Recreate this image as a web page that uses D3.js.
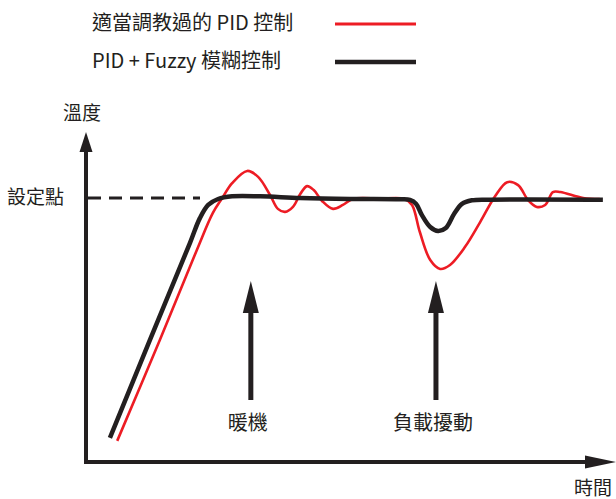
<!DOCTYPE html>
<html>
<head>
<meta charset="utf-8">
<script src="https://cdn.jsdelivr.net/npm/d3@7"></script>
<style>
  body { margin: 0; background: #fff; }
  text { font-family: "Noto Sans CJK TC", "Noto Sans", sans-serif; fill: #231f20; }
</style>
</head>
<body>
<svg id="chart" width="616" height="499"></svg>
<script>
// time (0-100) and temperature (0-100), set point at 80
var setPoint = 80;

var fuzzyTime = [4.6, 12.3, 20.0, 21.9, 23.5, 25.4, 28.1, 33.5, 41.2, 50.8, 60.4, 62.3, 63.5, 64.6, 66.2, 67.7, 69.2, 70.8, 72.3, 74.2, 77.7, 99.4];
var fuzzyTemp = [7.3, 37.0, 66.4, 73.9, 77.9, 79.7, 80.5, 80.5, 80.0, 79.7, 79.6, 79.4, 78.2, 74.8, 71.2, 70.0, 70.9, 75.2, 78.2, 79.3, 79.5, 79.5];

var pidTime = [6.0, 14.2, 21.3, 24.4, 26.2, 28.1, 31.0, 33.1, 35.4, 36.9, 38.3, 39.8, 41.2, 42.5, 43.8, 45.4, 47.5, 49.4, 51.3, 56.5, 61.3, 62.7, 64.2, 66.2, 68.1, 70.0, 72.9, 75.8, 78.7, 81.0, 83.1, 85.0, 86.7, 88.3, 89.8, 91.2, 95.6, 98.8];
var pidTemp = [6.4, 37.0, 64.2, 75.5, 80.0, 84.5, 88.2, 86.4, 80.9, 76.7, 75.8, 77.3, 81.2, 83.6, 82.4, 79.1, 76.7, 77.9, 79.7, 79.8, 79.7, 77.9, 69.7, 61.2, 58.5, 59.7, 65.2, 72.7, 80.6, 84.8, 83.9, 79.4, 77.3, 77.9, 81.8, 81.8, 80.0, 79.7];

var seriesNames = ["適當調教過的 PID 控制", "PID + Fuzzy 模糊控制"];
var seriesColors = ["#ed1c24", "#231f20"];

var eventNames = ["暖機", "負載擾動"];
var eventTime = [31.7, 67.3];

var axisNames = ["溫度", "設定點", "時間"];

var svg = d3.select("#chart");

var x = d3.scaleLinear().domain([0, 100]).range([86, 606]);
var y = d3.scaleLinear().domain([0, 100]).range([462, 132]);

var ink = "#231f20";

// axes
svg.append("line")
    .attr("x1", x(0)).attr("x2", x(0))
    .attr("y1", y(0) + 2).attr("y2", y(100) + 16)
    .attr("stroke", ink).attr("stroke-width", 4);
svg.append("path")
    .attr("d", "M" + x(0) + "," + y(100) + "l-6.5,20h13z")
    .attr("fill", ink);

svg.append("line")
    .attr("x1", x(0) - 2).attr("x2", 590)
    .attr("y1", y(0)).attr("y2", y(0))
    .attr("stroke", ink).attr("stroke-width", 4);
svg.append("path")
    .attr("d", "M616," + y(0) + "l-31,-6.5v13z")
    .attr("fill", ink);

// set point dashed line
svg.append("line")
    .attr("x1", x(0)).attr("x2", 200)
    .attr("y1", y(setPoint)).attr("y2", y(setPoint))
    .attr("stroke", ink).attr("stroke-width", 3)
    .attr("stroke-dasharray", "13,8")
    .attr("stroke-dashoffset", -2);

// axis labels
svg.append("text").attr("x", 82).attr("y", 120)
    .attr("text-anchor", "middle").style("font-size", "19px").text(axisNames[0]);
svg.append("text").attr("x", 7).attr("y", 204)
    .style("font-size", "19px").text(axisNames[1]);
svg.append("text").attr("x", 612).attr("y", 495)
    .attr("text-anchor", "end").style("font-size", "19px").text(axisNames[2]);

// curves
var line = d3.line()
    .x(d => x(d[0]))
    .y(d => y(d[1]))
    .curve(d3.curveCatmullRom.alpha(0.5));

var pidData = pidTime.map((t, i) => [t, pidTemp[i]]);
var fuzzyData = fuzzyTime.map((t, i) => [t, fuzzyTemp[i]]);

svg.append("path")
    .datum(pidData)
    .attr("d", line)
    .attr("fill", "none")
    .attr("stroke", seriesColors[0])
    .attr("stroke-width", 2.6);

svg.append("path")
    .datum(fuzzyData)
    .attr("d", line)
    .attr("fill", "none")
    .attr("stroke", seriesColors[1])
    .attr("stroke-width", 4.5);

// event arrows
eventTime.forEach(function(t, i) {
    var ax = x(t);
    svg.append("line")
        .attr("x1", ax).attr("x2", ax)
        .attr("y1", 400).attr("y2", 305)
        .attr("stroke", ink).attr("stroke-width", 5);
    svg.append("path")
        .attr("d", "M" + ax + ",281l-8,32h16z")
        .attr("fill", ink);
    svg.append("text")
        .attr("x", ax - 3).attr("y", 430)
        .attr("text-anchor", "middle")
        .style("font-size", "20px")
        .text(eventNames[i]);
});

// legend
seriesNames.forEach(function(name, i) {
    var ly = 23 + i * 38;
    svg.append("text")
        .attr("x", 92).attr("y", ly + 7)
        .style("font-size", "20px")
        .text(name);
    svg.append("line")
        .attr("x1", 335).attr("x2", 416)
        .attr("y1", ly + 1).attr("y2", ly + 1)
        .attr("stroke", seriesColors[i])
        .attr("stroke-width", i === 0 ? 3 : 4.5);
});
</script>
</body>
</html>
